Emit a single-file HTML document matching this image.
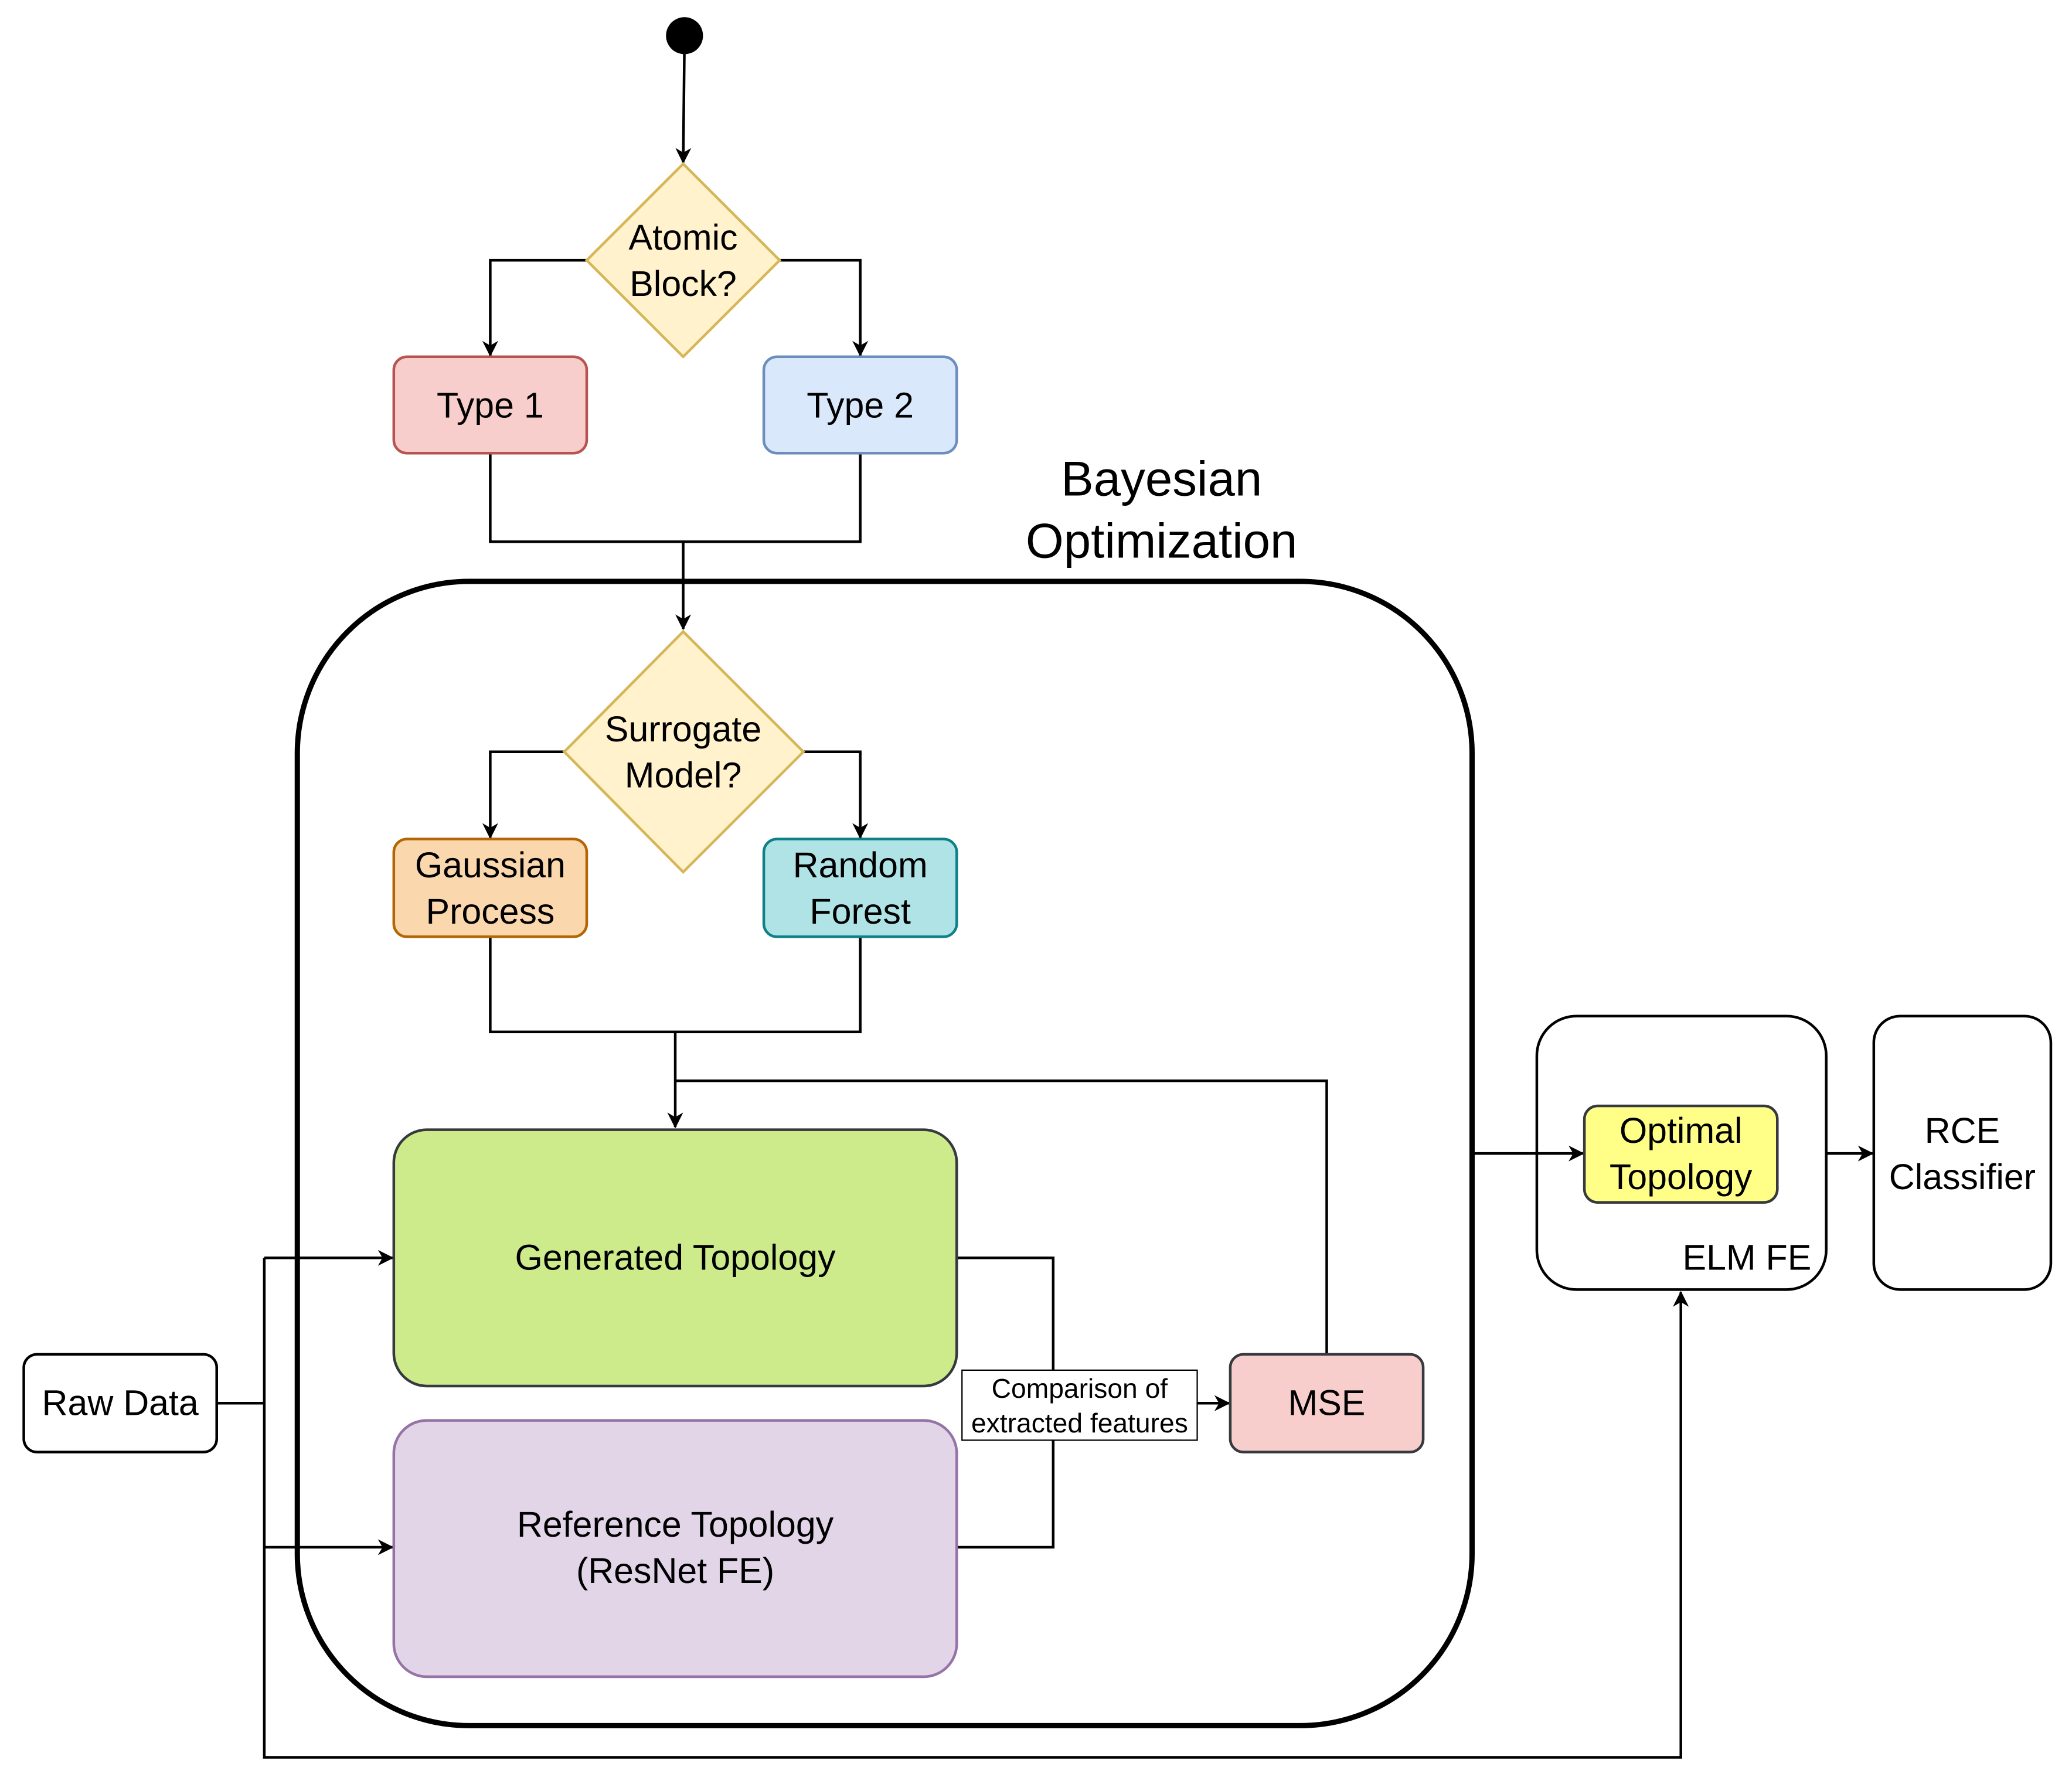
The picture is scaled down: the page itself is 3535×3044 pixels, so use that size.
<!DOCTYPE html>
<html><head><meta charset="utf-8"><style>html,body{margin:0;padding:0;background:#fff}svg{display:block}text{font-family:"Liberation Sans",Arial,sans-serif}</style></head>
<body>
<svg width="3535" height="3044" viewBox="0 0 1568 1350.2" preserveAspectRatio="none" xmlns="http://www.w3.org/2000/svg">
<defs><marker id="a" markerWidth="12" markerHeight="12" refX="11" refY="6" orient="auto" markerUnits="userSpaceOnUse"><path d="M0,0 L12,6 L0,12 L3.5,6 Z" fill="#000"/></marker></defs>
<g fill="none" stroke="#000" stroke-width="2">
<line x1="518" y1="30" x2="517" y2="123" marker-end="url(#a)"/>
<polyline points="444,197 371,197 371,269" marker-end="url(#a)"/>
<polyline points="590,197 651,197 651,269" marker-end="url(#a)"/>
<polyline points="371,343 371,410 651,410 651,343"/>
<line x1="517" y1="410" x2="517" y2="476" marker-end="url(#a)"/>
<polyline points="427,569 371,569 371,634" marker-end="url(#a)"/>
<polyline points="608,569 651,569 651,634" marker-end="url(#a)"/>
<polyline points="371,709 371,781 651,781 651,709"/>
<line x1="511" y1="781" x2="511" y2="853" marker-end="url(#a)"/>
<polyline points="1004,1025 1004,818 511,818"/>
<polyline points="724,952 797,952 797,1171 724,1171"/>
<line x1="906" y1="1062" x2="930" y2="1062" marker-end="url(#a)"/>
<polyline points="164,1062 200,1062"/>
<polyline points="200,952 200,1330 1272,1330 1272,978" marker-end="url(#a)"/>
<line x1="200" y1="952" x2="297" y2="952" marker-end="url(#a)"/>
<line x1="200" y1="1171" x2="297" y2="1171" marker-end="url(#a)"/>
<line x1="1114" y1="873" x2="1198" y2="873" marker-end="url(#a)"/>
<line x1="1382" y1="873" x2="1417" y2="873" marker-end="url(#a)"/>
</g>
<circle cx="518" cy="27" r="14" fill="#000"/>
<rect x="225" y="440" width="889" height="866" rx="130" fill="none" stroke="#000" stroke-width="4"/>
<polygon points="517,124 590,197 517,270 444,197" fill="#fff2cc" stroke="#d6b656" stroke-width="2"/>
<polygon points="517,478 608,569 517,660 427,569" fill="#fff2cc" stroke="#d6b656" stroke-width="2"/>
<rect x="298" y="270" width="146" height="73" rx="10" fill="#f8cecc" stroke="#b85450" stroke-width="2"/>
<rect x="578" y="270" width="146" height="73" rx="10" fill="#dae8fc" stroke="#6c8ebf" stroke-width="2"/>
<rect x="298" y="635" width="146" height="74" rx="10" fill="#fad7ac" stroke="#b46504" stroke-width="2"/>
<rect x="578" y="635" width="146" height="74" rx="10" fill="#b0e3e6" stroke="#0e8088" stroke-width="2"/>
<rect x="298" y="855" width="426" height="194" rx="25" fill="#cdeb8b" stroke="#36393d" stroke-width="2"/>
<rect x="298" y="1075" width="426" height="194" rx="25" fill="#e1d5e7" stroke="#9673a6" stroke-width="2"/>
<rect x="931" y="1025" width="146" height="74" rx="10" fill="#f8cecc" stroke="#36393d" stroke-width="2"/>
<rect x="18" y="1025" width="146" height="74" rx="10" fill="#fff" stroke="#000" stroke-width="2"/>
<rect x="728" y="1037" width="178" height="53" fill="#fff" stroke="#000" stroke-width="1"/>
<rect x="1163" y="769" width="219" height="207" rx="30" fill="none" stroke="#000" stroke-width="2"/>
<rect x="1199" y="837" width="146" height="73" rx="10" fill="#ffff88" stroke="#36393d" stroke-width="2"/>
<rect x="1418" y="769" width="134" height="207" rx="20" fill="none" stroke="#000" stroke-width="2"/>
<g fill="#000" font-size="27" text-anchor="middle">
<text x="517" y="189">Atomic</text><text x="517" y="224">Block?</text>
<text x="371" y="316">Type 1</text><text x="651" y="316">Type 2</text>
<text x="879" y="375" font-size="37">Bayesian</text><text x="879" y="422" font-size="37">Optimization</text>
<text x="517" y="561">Surrogate</text><text x="517" y="596">Model?</text>
<text x="371" y="664">Gaussian</text><text x="371" y="699">Process</text>
<text x="651" y="664">Random</text><text x="651" y="699">Forest</text>
<text x="511" y="961">Generated Topology</text>
<text x="511" y="1163">Reference Topology</text><text x="511" y="1198">(ResNet FE)</text>
<text x="1004" y="1071">MSE</text>
<text x="91" y="1071">Raw Data</text>
<text x="817" y="1058" font-size="20.5">Comparison of</text><text x="817" y="1084" font-size="20.5">extracted features</text>
<text x="1272" y="865">Optimal</text><text x="1272" y="900">Topology</text>
<text x="1322" y="961">ELM FE</text>
<text x="1485" y="865">RCE</text><text x="1485" y="900">Classifier</text>
</g>
</svg>
</body></html>
